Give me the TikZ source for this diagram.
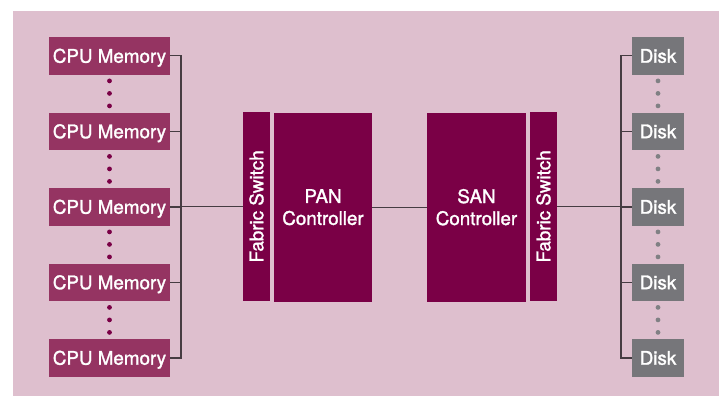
\documentclass[tikz,border=0pt]{standalone}
\usepackage{fontspec}
\setmainfont{TeX Gyre Heros}
\newfontfamily\medfont{TeX Gyre Heros}[FakeBold=1.5]
\definecolor{bgpink}{RGB}{222,191,206}
\definecolor{cpucol}{RGB}{149,52,98}
\definecolor{ctrlcol}{RGB}{122,0,70}
\definecolor{diskcol}{RGB}{118,118,122}
\definecolor{diskdot}{RGB}{128,128,132}
\definecolor{linecol}{RGB}{70,60,66}
\begin{document}
\begin{tikzpicture}[x=1pt,y=-1pt,
  lbl/.style={text=white, inner sep=0pt, align=center, font=\medfont\fontsize{18.8}{22}\selectfont},
  one/.style={text height=13.6pt, text depth=0pt},
  cpubox/.style={lbl, one, fill=cpucol, minimum width=121pt, minimum height=37.5pt},
  diskbox/.style={lbl, one, fill=diskcol, minimum width=52pt, minimum height=37.5pt},
  ctrlbox/.style={lbl, fill=ctrlcol, minimum height=189pt},
  fswbox/.style={lbl, one, fill=ctrlcol, rotate=90, minimum width=189pt, minimum height=27pt},
  wire/.style={draw=linecol, line width=1.2pt},
  cpudot/.style={fill=ctrlcol},
  dskdot/.style={fill=diskdot}]
\useasboundingbox (0,0) rectangle (723,396);
\fill[white] (0,0) rectangle (723,396);
\fill[bgpink] (13,11) rectangle (719,396);
% CPU memory and disk boxes
\foreach \i [evaluate=\i as \yy using {55.9+75.5*(\i-1)}] in {1,...,5}{
  \node[cpubox] (c\i) at (109.5,\yy) {CPU Memory};
  \node[diskbox] (d\i) at (658,\yy) {Disk};
}
% dots
\foreach \i [evaluate=\i as \yy using {93.4+75.5*(\i-1)}] in {1,...,4}{
  \foreach \dy in {-12.5,0,12.5}{
    \fill[cpudot] (109.5,\yy+\dy) circle (2.4pt);
    \fill[dskdot] (658,\yy+\dy) circle (2.4pt);
  }
}
% central blocks
\node[fswbox] (fs1) at (256.5,206.4) {Fabric Switch};
\node[ctrlbox, minimum width=98pt] (pan) at (323,207.2) {PAN\\Controller};
\node[ctrlbox, minimum width=99pt] (san) at (476.5,207.2) {SAN\\Controller};
\node[fswbox] (fs2) at (543.5,206.4) {Fabric Switch};
% buses
\coordinate (bl) at (181,206.4);
\coordinate (br) at (621,206.4);
\draw[wire] (c1.east) -| (bl) |- (c5.east);
\foreach \i in {2,3,4}{ \draw[wire] (c\i.east) -| (bl); }
\draw[wire] (d1.west) -| (br) |- (d5.west);
\foreach \i in {2,3,4}{ \draw[wire] (d\i.west) -| (br); }
\draw[wire] (bl) -- (fs1);
\draw[wire] (pan.east) -- (san.west);
\draw[wire] (fs2) -- (br);
\end{tikzpicture}
\end{document}
